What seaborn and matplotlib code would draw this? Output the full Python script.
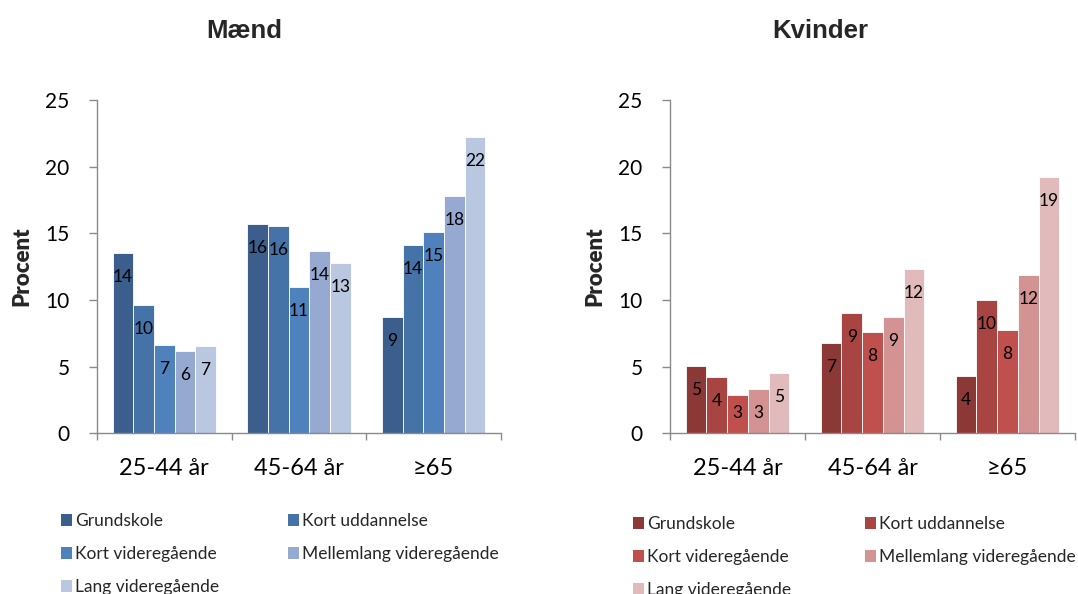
import matplotlib
matplotlib.use("Agg")
import matplotlib.pyplot as plt
from matplotlib.patches import Patch
from matplotlib.ticker import FixedLocator
import numpy as np
import pandas as pd
import seaborn as sns

# Age groups and education levels
ages = ["25-44 år", "45-64 år", "≥65"]
educations = ["Grundskole", "Kort uddannelse", "Kort videregående",
              "Mellemlang videregående", "Lang videregående"]

# Percentages per education level, one list per age group
men_25_44 = [13.55, 9.6, 6.6, 6.15, 6.55]
men_45_64 = [15.7, 15.55, 10.95, 13.65, 12.8]
men_65 = [8.7, 14.1, 15.08, 17.78, 22.2]

women_25_44 = [5.05, 4.25, 2.87, 3.32, 4.52]
women_45_64 = [6.75, 9.0, 7.62, 8.72, 12.32]
women_65 = [4.3, 9.97, 7.77, 11.85, 19.25]

men_colors = ["#3B5E8C", "#4572A7", "#4F81BD", "#95A9D1", "#BAC7E1"]
women_colors = ["#8C3836", "#A84542", "#C0504D", "#D39392", "#E1BBBB"]

sns.set_style("white")
plt.rcParams["font.family"] = ["Lato", "DejaVu Sans"]

AXIS_GREY = "#8A8A8A"


def long_table(rows):
    recs = []
    for age, vals in zip(ages, rows):
        for edu, v in zip(educations, vals):
            recs.append({"age": age, "edu": edu, "value": v})
    return pd.DataFrame(recs)


def draw_panel(ax, df, colors):
    sns.barplot(data=df, x="age", y="value", hue="edu", order=ages,
                hue_order=educations, palette=colors, saturation=1,
                width=0.767, gap=0, edgecolor="white", linewidth=0.6,
                legend=False, ax=ax)
    ax.set_xlim(-0.5, 2.5)
    ax.set_ylim(0, 25)
    ax.set_yticks(np.arange(0, 26, 5))
    ax.set_xlabel("")
    ax.set_ylabel("Procent", fontsize=16, fontweight="heavy", labelpad=0)
    ax.yaxis.set_label_coords(-0.159, 0.5)

    for side in ("top", "right"):
        ax.spines[side].set_visible(False)
    for side in ("left", "bottom"):
        ax.spines[side].set_color(AXIS_GREY)
        ax.spines[side].set_linewidth(1.0)

    ax.tick_params(axis="y", which="major", direction="out", length=5.8,
                   width=1.0, color=AXIS_GREY, pad=14, labelsize=15,
                   labelcolor="black", left=True)
    ax.tick_params(axis="x", which="major", length=0, pad=18, labelsize=17,
                   labelcolor="black")
    ax.xaxis.set_minor_locator(FixedLocator([-0.5, 0.5, 1.5, 2.5]))
    ax.tick_params(axis="x", which="minor", direction="out", length=5.2,
                   width=1.0, color=AXIS_GREY, bottom=True)

    # Value labels just inside the top of each bar
    for container in ax.containers:
        for bar in container:
            v = bar.get_height()
            xc = bar.get_x() + bar.get_width() / 2
            yc = max(v - 1.8, 1.55)
            ax.text(xc, yc, f"{v:.0f}", ha="center", va="center",
                    fontsize=12.5, color="black")


def draw_legend(fig, colors, x_col1, x_col2, y_top):
    handles = [Patch(facecolor=c, edgecolor="none") for c in colors]
    kw = dict(loc="upper left", frameon=False, borderpad=0, borderaxespad=0,
              handlelength=0.66, handleheight=0.66, handletextpad=0.15,
              labelspacing=0.98, fontsize=12.5,
              bbox_transform=fig.transFigure)
    cols = [[0, 2, 4], [1, 3]]
    for x, idx in zip((x_col1, x_col2), cols):
        fig.legend([handles[i] for i in idx], [educations[i] for i in idx],
                   bbox_to_anchor=(x / 1078, 1 - y_top / 594), **kw)


fig = plt.figure(figsize=(10.78, 5.94), dpi=100)
ax_m = fig.add_axes([97 / 1078, 0.2705, 404 / 1078, 0.5611])
ax_w = fig.add_axes([670 / 1078, 0.2705, 405 / 1078, 0.5611])

draw_panel(ax_m, long_table([men_25_44, men_45_64, men_65]), men_colors)
draw_panel(ax_w, long_table([women_25_44, women_45_64, women_65]), women_colors)

fig.text(244 / 1078, 1 - 37.5 / 594, "Mænd", ha="center", va="baseline",
         fontsize=18.5, fontweight="bold", family="Liberation Sans")
fig.text(820 / 1078, 1 - 37.5 / 594, "Kvinder", ha="center", va="baseline",
         fontsize=18.5, fontweight="bold", family="Liberation Sans")

draw_legend(fig, men_colors, 61, 288, 513)
draw_legend(fig, women_colors, 633, 865, 516)

fig.savefig("out.png", dpi=100)
